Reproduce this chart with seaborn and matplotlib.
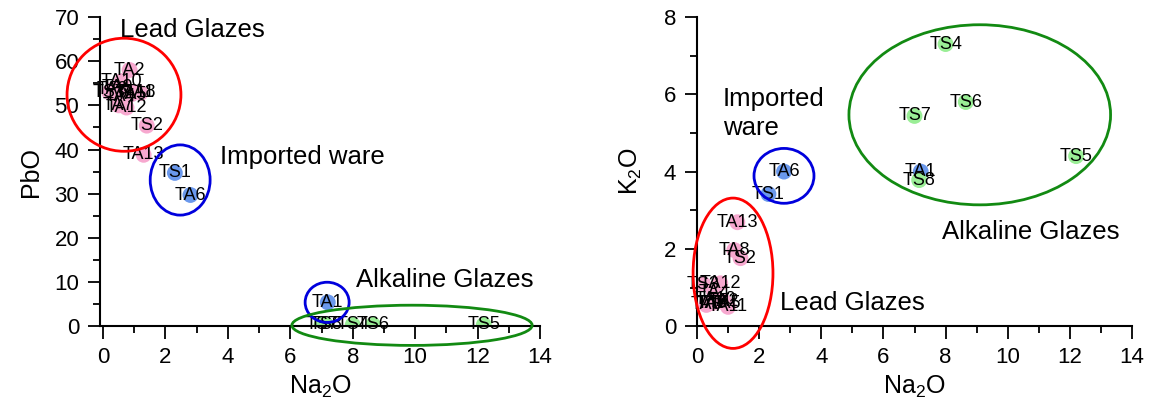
import numpy as np
import pandas as pd
import seaborn as sns
import matplotlib.pyplot as plt
from matplotlib.patches import Ellipse

# sample data
samples = ['TA1', 'TA2', 'TA3', 'TA4', 'TA5', 'TA6', 'TA7', 'TA8', 'TA9', 'TA10',
           'TA11', 'TA12', 'TA13', 'TS1', 'TS2', 'TS3', 'TS4', 'TS5', 'TS6', 'TS7', 'TS8']
group = ['imported', 'lead', 'lead', 'lead', 'lead', 'imported', 'lead', 'lead', 'lead', 'lead',
         'lead', 'lead', 'lead', 'imported', 'lead', 'lead', 'alkaline', 'alkaline', 'alkaline',
         'alkaline', 'alkaline']
na2o = [7.2, 0.85, 0.3, 0.55, 0.9, 2.8, 0.5, 1.2, 0.45, 0.6,
        1.0, 0.75, 1.3, 2.3, 1.4, 0.2, 8.0, 12.2, 8.65, 7.0, 7.15]
pbo = [5.4, 58.0, 53.5, 52.0, 52.5, 29.7, 50.0, 52.8, 54.0, 55.5,
       53.0, 49.5, 38.8, 34.7, 45.4, 53.0, 0.3, 0.3, 0.3, 0.3, 0.3]
k2o = [4.0, 0.65, 0.55, 0.88, 0.6, 4.0, 0.6, 1.97, 0.6, 0.7,
       0.5, 1.11, 2.69, 3.42, 1.76, 1.09, 7.3, 4.4, 5.8, 5.44, 3.78]

df = pd.DataFrame({'sample': samples, 'group': group, 'Na2O': na2o, 'PbO': pbo, 'K2O': k2o})
palette = {'lead': '#F7A8CF', 'imported': '#6A98EC', 'alkaline': '#9AEE96'}

plt.rcParams['font.family'] = ['Liberation Sans', 'DejaVu Sans']
plt.rcParams['mathtext.fontset'] = 'custom'
plt.rcParams['mathtext.rm'] = 'Liberation Sans'
plt.rcParams['mathtext.it'] = 'Liberation Sans'
fig = plt.figure(figsize=(11.53, 4.15), dpi=100)
ax1 = fig.add_axes([0.0867, 0.214, 0.3816, 0.745])
ax2 = fig.add_axes([0.6045, 0.214, 0.3773, 0.745])


def draw(ax, ycol):
    sns.scatterplot(data=df, x='Na2O', y=ycol, hue='group', palette=palette, s=130,
                    edgecolor='none', legend=False, ax=ax, zorder=2)
    for _, r in df.iterrows():
        ax.text(r['Na2O'], r[ycol], r['sample'], ha='center', va='center', fontsize=13, zorder=3)
    ax.set_xlim(-0.1, 14)
    ax.set_xticks(range(0, 15, 2))
    ax.set_xticks(range(1, 15, 2), minor=True)
    ax.spines['top'].set_visible(False)
    ax.spines['right'].set_visible(False)
    for s in ['left', 'bottom']:
        ax.spines[s].set_linewidth(1.5)
    ax.tick_params(which='major', length=9, width=1.3, labelsize=16, pad=6)
    ax.tick_params(which='minor', length=5, width=1.3)
    ax.set_xlabel('Na$_\\mathregular{2}$O', fontsize=18, labelpad=4)


def ring(ax, cx, cy, w, h, color):
    ax.add_patch(Ellipse((cx, cy), w, h, fill=False, edgecolor=color, lw=2, zorder=4, clip_on=False))


# left panel: PbO vs Na2O
draw(ax1, 'PbO')
ax1.set_ylim(0, 70)
ax1.set_yticks(range(0, 71, 10))
ax1.set_yticks(range(5, 70, 10), minor=True)
ax1.set_ylabel('PbO', fontsize=18, labelpad=8)
ring(ax1, 0.67, 52.4, 3.65, 25.6, '#FF0000')
ring(ax1, 2.47, 33.1, 1.92, 15.9, '#0000DD')
ring(ax1, 7.18, 5.4, 1.41, 9.1, '#0000DD')
ring(ax1, 9.9, 0.2, 7.7, 9.1, '#128A12')
ax1.text(0.55, 67, 'Lead Glazes', fontsize=18.5, va='center')
ax1.text(3.75, 38.3, 'Imported ware', fontsize=18.5, va='center')
ax1.text(8.1, 10.4, 'Alkaline Glazes', fontsize=18.5, va='center')

# right panel: K2O vs Na2O
draw(ax2, 'K2O')
ax2.set_xlim(0, 14)
ax2.set_ylim(0, 8)
ax2.set_yticks(range(0, 9, 2))
ax2.set_yticks(range(1, 9, 2), minor=True)
ax2.set_ylabel('K$_\\mathregular{2}$O', fontsize=18, labelpad=14)
ring(ax2, 1.16, 1.37, 2.57, 3.89, '#FF0000')
ring(ax2, 2.8, 3.89, 1.93, 1.42, '#0000DD')
ring(ax2, 9.1, 5.47, 8.42, 4.66, '#128A12')
ax2.text(0.84, 5.5, 'Imported\nware', fontsize=18.5, va='center', linespacing=1.3)
ax2.text(7.9, 2.45, 'Alkaline Glazes', fontsize=18.5, va='center')
ax2.text(2.67, 0.6, 'Lead Glazes', fontsize=18.5, va='center')

fig.savefig('out.png', dpi=100)
